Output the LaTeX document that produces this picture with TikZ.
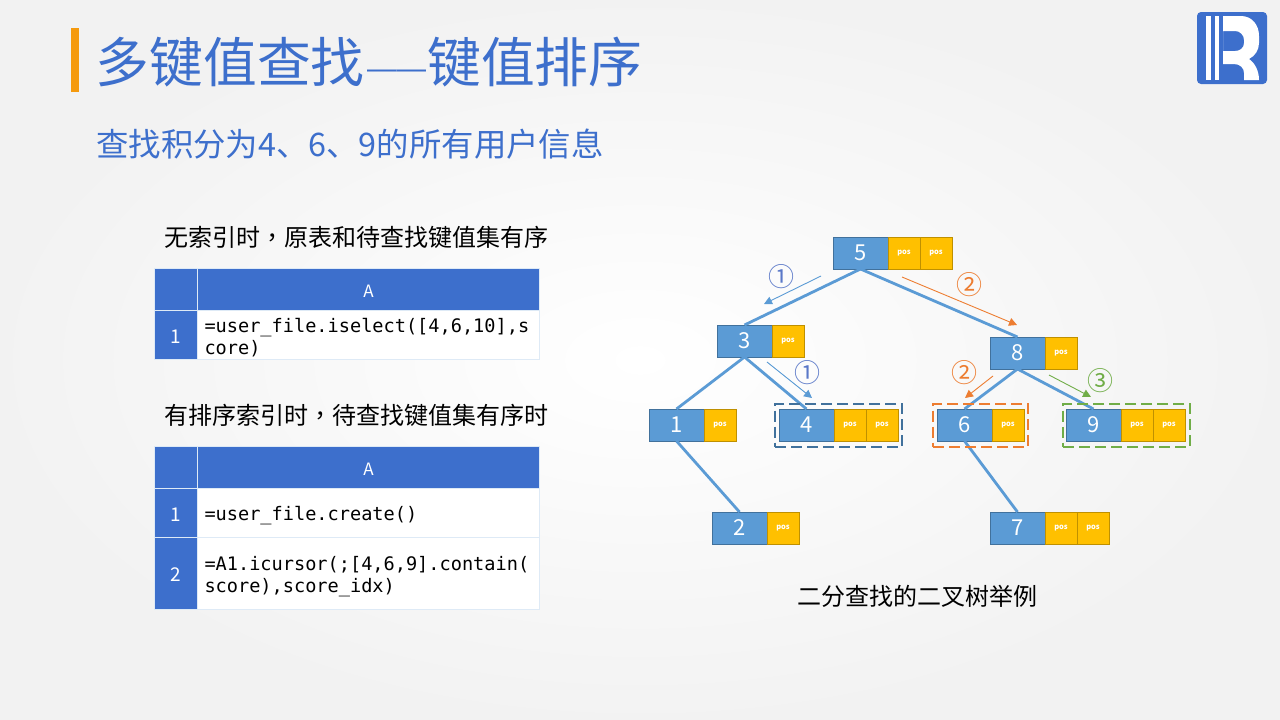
\documentclass[tikz,border=0pt]{standalone}
\usepackage{xcolor}
\usepackage{fontspec}
\setmainfont{Noto Sans CJK SC}
\setmonofont{DejaVu Sans Mono}
\newfontfamily\tcfont{Noto Sans CJK TC}
\newfontfamily\dashfont{Liberation Sans}
\usepackage{tikz}
\usetikzlibrary{arrows.meta,positioning,fit}

\definecolor{titleblue}{HTML}{3D6FCC}
\definecolor{barorange}{HTML}{F59A0E}
\definecolor{keyblue}{HTML}{5B9BD5}
\definecolor{keyedge}{HTML}{41719C}
\definecolor{posgold}{HTML}{FFC000}
\definecolor{posedge}{HTML}{BF9000}
\definecolor{markorange}{HTML}{ED7D31}
\definecolor{markgreen}{HTML}{70AD47}
\definecolor{markblue}{HTML}{5A78C8}
\definecolor{gridline}{HTML}{DEEAF6}

\tikzset{
  keycell/.style={draw=keyedge, fill=keyblue, line width=1pt, outer sep=0pt, text=white, minimum width=55pt, minimum height=32pt, inner sep=0pt, font=\fontsize{22}{24}\selectfont},
  poscell/.style={draw=posedge, fill=posgold, line width=1pt, outer sep=0pt, text=white, minimum width=32pt, minimum height=32pt, inner sep=0pt, font=\bfseries\fontsize{7.5}{8}\selectfont},
  branch/.style={draw=keyblue, line width=2.8pt},
  hint/.style={->, line width=.9pt},
  circled/.style={inner sep=0pt, font=\fontsize{26}{28}\selectfont},
  headcell/.style={draw=gridline, fill=titleblue, text=white, inner sep=0pt, outer sep=0pt, line width=1pt, text height=16pt, font=\fontsize{17}{20}\selectfont},
  rowcell/.style={headcell, minimum width=43pt, text height=16pt, font=\fontsize{19}{20}\selectfont},
  bodycell/.style={draw=gridline, fill=white, inner sep=0pt, outer sep=0pt, line width=1pt, minimum width=342pt, text width=328pt, align=left, execute at begin node={\rule{0pt}{20pt}}, font=\ttfamily\fontsize{18.6}{22}\selectfont},
  caption/.style={inner sep=0pt, text=black, font=\fontsize{24}{28}\selectfont},
  markbox/.style={draw, dashed, dash pattern=on 11pt off 5pt, line width=2pt, inner xsep=4pt, inner ysep=5.5pt}
}

\begin{document}
\begin{tikzpicture}[x=1pt, y=-1pt, >={Triangle[length=8pt,width=8pt]}]
    \useasboundingbox (0,0) rectangle (1280,720);
    \shade[inner color=white, outer color=black!5] (0,0) rectangle (1280,720);

    % title
    \fill[barorange] (71,28) rectangle (79,92);
    \node[anchor=west, inner sep=0pt, text=titleblue, font=\fontsize{53.8}{60}\selectfont] (title) at (95.5,62) {多键值查找\hspace{2.5pt}\raisebox{3.5pt}{\dashfont\fontsize{29.5}{31}\selectfont ——}\hspace{1pt}键值排序};
    \node[anchor=west, inner sep=0pt, text=titleblue, font=\fontsize{32.4}{38}\selectfont] (subtitle) at (96,144) {查找积分为4、6、9的所有用户信息};

    % logo
    \fill[titleblue, rounded corners=4pt] (1197,12) rectangle (1267,84);
    \fill[white] (1206.3,16) rectangle (1211.3,80);
    \fill[white] (1215.3,16) rectangle (1219.3,80);
    \fill[white, even odd rule] (1223,16) -- (1241,16) .. controls (1252,16) and (1259,25) .. (1259,36) -- (1259,43) .. controls (1259,50) and (1255,56) .. (1249,59) .. controls (1255,63) and (1259,71) .. (1259,80) -- (1244,80) -- (1244,73) .. controls (1244,68) and (1240,64) .. (1234,64) -- (1223,64) -- cycle
      (1223,31) -- (1235,31) .. controls (1240,31) and (1244,35) .. (1244,40) -- (1244,43) .. controls (1244,48) and (1240,51) .. (1235,51) -- (1223,51) -- cycle;

    % first table
    \node[caption, anchor=west] (capa) at (164,237) {无索引时{\tcfont ，}原表和待查找键值集有序};
    \node[rowcell, anchor=north west, minimum height=42pt] (ta0) at (154.5,268.5) {};
    \node[headcell, minimum width=342pt, minimum height=42pt] (taA) [right=0pt of ta0] {A};
    \node[rowcell, minimum height=49pt] (ta1) [below=0pt of ta0] {1};
    \node[bodycell, minimum height=49pt] (tab1) [below=0pt of taA] {=user\_file.iselect([4,6,10],s\\core)};

    % second table
    \node[caption, anchor=west] (capb) at (164,415) {有排序索引时{\tcfont ，}待查找键值集有序时};
    \node[rowcell, anchor=north west, minimum height=42pt] (tb0) at (154.5,446.5) {};
    \node[headcell, minimum width=342pt, minimum height=42pt] (tbA) [right=0pt of tb0] {A};
    \node[rowcell, minimum height=49pt] (tb1) [below=0pt of tb0] {1};
    \node[rowcell, minimum height=72pt] (tb2) [below=0pt of tb1] {2};
    \node[bodycell, minimum height=49pt] (tbb1) [below=0pt of tbA] {=user\_file.create()};
    \node[bodycell, minimum height=72pt] (tbb2) [below=0pt of tbb1] {=A1.icursor(;[4,6,9].contain(\\score),score\_idx)};

    % tree
    \node[keycell, anchor=north west] (n5) at (833,237) {5};
    \node[poscell] (n5a) [right=0pt of n5] {pos};
    \node[poscell] (n5b) [right=0pt of n5a] {pos};
    \node[keycell] (n3) [below left=56pt and 61pt of n5] {3};
    \node[poscell] (n3a) [right=0pt of n3] {pos};
    \node[keycell] (n8) [below right=68pt and 102pt of n5] {8};
    \node[poscell] (n8a) [right=0pt of n8] {pos};
    \node[keycell] (n1) [below left=52pt and 13pt of n3] {1};
    \node[poscell] (n1a) [right=0pt of n1] {pos};
    \node[keycell] (n4) [below right=52pt and 7pt of n3] {4};
    \node[poscell] (n4a) [right=0pt of n4] {pos};
    \node[poscell] (n4b) [right=0pt of n4a] {pos};
    \node[keycell] (n6) [below left=40pt and -2pt of n8] {6};
    \node[poscell] (n6a) [right=0pt of n6] {pos};
    \node[keycell] (n9) [below right=40pt and 21pt of n8] {9};
    \node[poscell] (n9a) [right=0pt of n9] {pos};
    \node[poscell] (n9b) [right=0pt of n9a] {pos};
    \node[keycell] (n2) [below right=71pt and 8pt of n1] {2};
    \node[poscell] (n2a) [right=0pt of n2] {pos};
    \node[keycell] (n7) [below right=71pt and -2pt of n6] {7};
    \node[poscell] (n7a) [right=0pt of n7] {pos};
    \node[poscell] (n7b) [right=0pt of n7a] {pos};

    \draw[branch] (n5.south) -- (n3.north);
    \draw[branch] (n5.south) -- (n8.north);
    \draw[branch] (n3.south) -- (n1.north);
    \draw[branch] (n3.south) -- (n4.north);
    \draw[branch] (n8.south) -- (n6.north);
    \draw[branch] (n8.south) -- (n9.north);
    \draw[branch] (n1.south) -- (n2.north);
    \draw[branch] (n6.south) -- (n7.north);

    % found keys
    \node[markbox, draw=keyedge, fit=(n4)(n4b)] (box4) {};
    \node[markbox, draw=markorange, fit=(n6)(n6a)] (box6) {};
    \node[markbox, draw=markgreen, fit=(n9)(n9b), xshift=1pt] (box9) {};

    % search steps
    \coordinate (s1a) at (821,276);
    \coordinate (e1a) at (764,304);
    \coordinate (s1b) at (767,362);
    \coordinate (e1b) at (812,398);
    \coordinate (s2a) at (902,277);
    \coordinate (e2a) at (1017,325);
    \coordinate (s2b) at (993,376);
    \coordinate (e2b) at (965,398);
    \coordinate (s3) at (1049,375);
    \coordinate (e3) at (1091,397);
    \draw[hint, keyblue] (s1a) -- (e1a);
    \draw[hint, keyblue] (s1b) -- (e1b);
    \draw[hint, markorange] (s2a) -- (e2a);
    \draw[hint, markorange] (s2b) -- (e2b);
    \draw[hint, markgreen] (s3) -- (e3);
    \node[circled, text=markblue] (m1a) at (781,276.5) {①};
    \node[circled, text=markblue] (m1b) at (807,372.5) {①};
    \node[circled, text=markorange] (m2a) at (969,284.5) {②};
    \node[circled, text=markorange] (m2b) at (964,372.5) {②};
    \node[circled, text=markgreen] (m3) at (1100,381) {③};

    \node[caption] (capc) at (917.5,596) {二分查找的二叉树举例};
  \end{tikzpicture}
\end{document}
